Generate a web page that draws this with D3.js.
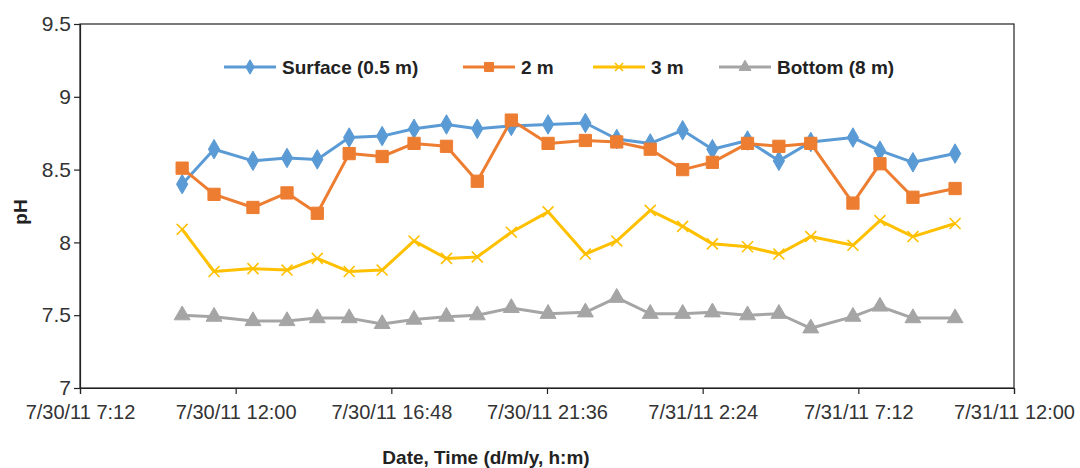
<!DOCTYPE html>
<html>
<head>
<meta charset="utf-8">
<script src="https://cdn.jsdelivr.net/npm/d3@7/dist/d3.min.js"></script>
<style>
  html, body { margin: 0; padding: 0; background: #fff; }
  svg { display: block; font-family: "Liberation Sans", Arial, sans-serif; }
</style>
</head>
<body>
<svg id="chart" width="1080" height="468"></svg>
<script>
// Sampling times (hourly profile readings)
const sampleTimes = [
  "2011-07-30 10:21", "2011-07-30 11:20", "2011-07-30 12:32", "2011-07-30 13:35",
  "2011-07-30 14:31", "2011-07-30 15:30", "2011-07-30 16:31", "2011-07-30 17:30",
  "2011-07-30 18:30", "2011-07-30 19:27", "2011-07-30 20:30", "2011-07-30 21:38",
  "2011-07-30 22:47", "2011-07-30 23:45", "2011-07-31 00:47", "2011-07-31 01:47",
  "2011-07-31 02:42", "2011-07-31 03:47", "2011-07-31 04:45", "2011-07-31 05:44",
  "2011-07-31 07:02", "2011-07-31 07:52", "2011-07-31 08:53", "2011-07-31 10:11"
];

// pH at each depth
const surfacePH = [8.40, 8.64, 8.56, 8.58, 8.57, 8.72, 8.73, 8.78, 8.81, 8.78, 8.80, 8.81,
                   8.82, 8.71, 8.68, 8.77, 8.64, 8.70, 8.56, 8.69, 8.72, 8.63, 8.55, 8.61];
const depth2mPH  = [8.51, 8.33, 8.24, 8.34, 8.20, 8.61, 8.59, 8.68, 8.66, 8.42, 8.84, 8.68,
                   8.70, 8.69, 8.64, 8.50, 8.55, 8.68, 8.66, 8.68, 8.27, 8.54, 8.31, 8.37];
const depth3mPH  = [8.09, 7.80, 7.82, 7.81, 7.89, 7.80, 7.81, 8.01, 7.89, 7.90, 8.07, 8.21,
                   7.92, 8.01, 8.22, 8.11, 7.99, 7.97, 7.92, 8.04, 7.98, 8.15, 8.04, 8.13];
const bottomPH   = [7.50, 7.49, 7.46, 7.46, 7.48, 7.48, 7.44, 7.47, 7.49, 7.50, 7.55, 7.51,
                   7.52, 7.62, 7.51, 7.51, 7.52, 7.50, 7.51, 7.41, 7.49, 7.56, 7.48, 7.48];

const seriesNames = ["Surface (0.5 m)", "2 m", "3 m", "Bottom (8 m)"];

// Axis ticks
const xTickTimes = ["2011-07-30 07:12", "2011-07-30 12:00", "2011-07-30 16:48",
                    "2011-07-30 21:36", "2011-07-31 02:24", "2011-07-31 07:12",
                    "2011-07-31 12:00"];
const xTickLabels = ["7/30/11 7:12", "7/30/11 12:00", "7/30/11 16:48", "7/30/11 21:36",
                     "7/31/11 2:24", "7/31/11 7:12", "7/31/11 12:00"];
const yTicks = [7, 7.5, 8, 8.5, 9, 9.5];
const yTickLabels = ["7", "7.5", "8", "8.5", "9", "9.5"];

const parseTime = d3.timeParse("%Y-%m-%d %H:%M");
const times = sampleTimes.map(parseTime);
const xTickDates = xTickTimes.map(parseTime);

const styles = [
  { color: "#5B9BD5", symbol: d3.symbolDiamond, size: 110, type: "fill" },
  { color: "#ED7D31", symbol: d3.symbolSquare, size: 150, type: "fill" },
  { color: "#FFC000", symbol: d3.symbolX, size: 80, type: "stroke" },
  { color: "#A5A5A5", symbol: d3.symbolTriangle, size: 110, type: "fill" }
];

const seriesValues = [surfacePH, depth2mPH, depth3mPH, bottomPH];
const series = seriesNames.map((name, i) => ({
  name,
  style: styles[i],
  points: times.map((t, j) => ({ t, v: seriesValues[i][j] }))
}));

const svg = d3.select("#chart");
const plot = { left: 80, right: 1014, top: 24, bottom: 388 };

const x = d3.scaleTime()
  .domain([xTickDates[0], xTickDates[xTickDates.length - 1]])
  .range([plot.left, plot.right]);
const y = d3.scaleLinear().domain([7, 9.5]).range([plot.bottom, plot.top]);

// Plot area border
svg.append("rect")
  .attr("x", plot.left).attr("y", plot.top)
  .attr("width", plot.right - plot.left).attr("height", plot.bottom - plot.top)
  .attr("fill", "none").attr("stroke", "#222").attr("stroke-width", 1.2);

// X axis
const xAxis = d3.axisBottom(x)
  .tickValues(xTickDates)
  .tickSize(6)
  .tickPadding(11)
  .tickFormat((d, i) => xTickLabels[i]);
const gx = svg.append("g")
  .attr("transform", `translate(0,${plot.bottom})`)
  .call(xAxis);
gx.select(".domain").attr("stroke", "#222").attr("stroke-width", 1.2);
gx.selectAll(".tick line").attr("stroke", "#222").attr("stroke-width", 1.2);
gx.selectAll(".tick text")
  .attr("fill", "#333")
  .style("font-size", "20px")
  .style("font-family", "'Liberation Sans', Arial, sans-serif");

// Y axis
const yAxis = d3.axisLeft(y)
  .tickValues(yTicks)
  .tickSize(6)
  .tickPadding(3)
  .tickFormat((d, i) => yTickLabels[i]);
const gy = svg.append("g")
  .attr("transform", `translate(${plot.left},0)`)
  .call(yAxis);
gy.select(".domain").attr("stroke", "#222").attr("stroke-width", 1.2);
gy.selectAll(".tick line").attr("stroke", "#222").attr("stroke-width", 1.2);
gy.selectAll(".tick text")
  .attr("fill", "#333")
  .style("font-size", "21px")
  .style("font-family", "'Liberation Sans', Arial, sans-serif");

// Axis titles
svg.append("text")
  .attr("x", 486).attr("y", 464)
  .attr("text-anchor", "middle")
  .attr("font-weight", "bold")
  .attr("font-size", 19)
  .attr("fill", "#222")
  .text("Date, Time (d/m/y, h:m)");

svg.append("text")
  .attr("transform", "translate(27,212) rotate(-90)")
  .attr("text-anchor", "middle")
  .attr("font-weight", "bold")
  .attr("font-size", 19)
  .attr("fill", "#222")
  .text("pH");

// Series lines and markers
const line = d3.line().x(d => x(d.t)).y(d => y(d.v));

function drawMarker(sel, style, size) {
  sel.attr("d", d3.symbol().type(style.symbol).size(size));
  if (style.type === "fill") {
    sel.attr("fill", style.color).attr("stroke", style.color).attr("stroke-width", 1);
  } else {
    sel.attr("fill", "none").attr("stroke", style.color).attr("stroke-width", 1.6);
  }
}

series.forEach(s => {
  const g = svg.append("g");
  g.append("path")
    .datum(s.points)
    .attr("d", line)
    .attr("fill", "none")
    .attr("stroke", s.style.color)
    .attr("stroke-width", 3)
    .attr("stroke-linejoin", "round");
  g.selectAll("path.marker")
    .data(s.points)
    .join("path")
    .attr("class", "marker")
    .attr("transform", d => `translate(${x(d.t)},${y(d.v)})`)
    .call(drawMarker, s.style, s.style.size);
});

// Legend
const legendX = [224, 463, 593, 719];
const legendY = 67;
const legend = svg.append("g");
series.forEach((s, i) => {
  const g = legend.append("g").attr("transform", `translate(${legendX[i]},${legendY})`);
  g.append("line")
    .attr("x1", 0).attr("x2", 52).attr("y1", 0).attr("y2", 0)
    .attr("stroke", s.style.color).attr("stroke-width", 3);
  g.append("path")
    .attr("transform", "translate(26,0)")
    .call(drawMarker, s.style, s.style.size * 0.55);
  g.append("text")
    .attr("x", 58).attr("y", 7)
    .attr("font-weight", "bold")
    .attr("font-size", 19)
    .attr("fill", "#222")
    .text(s.name);
});
</script>
</body>
</html>
